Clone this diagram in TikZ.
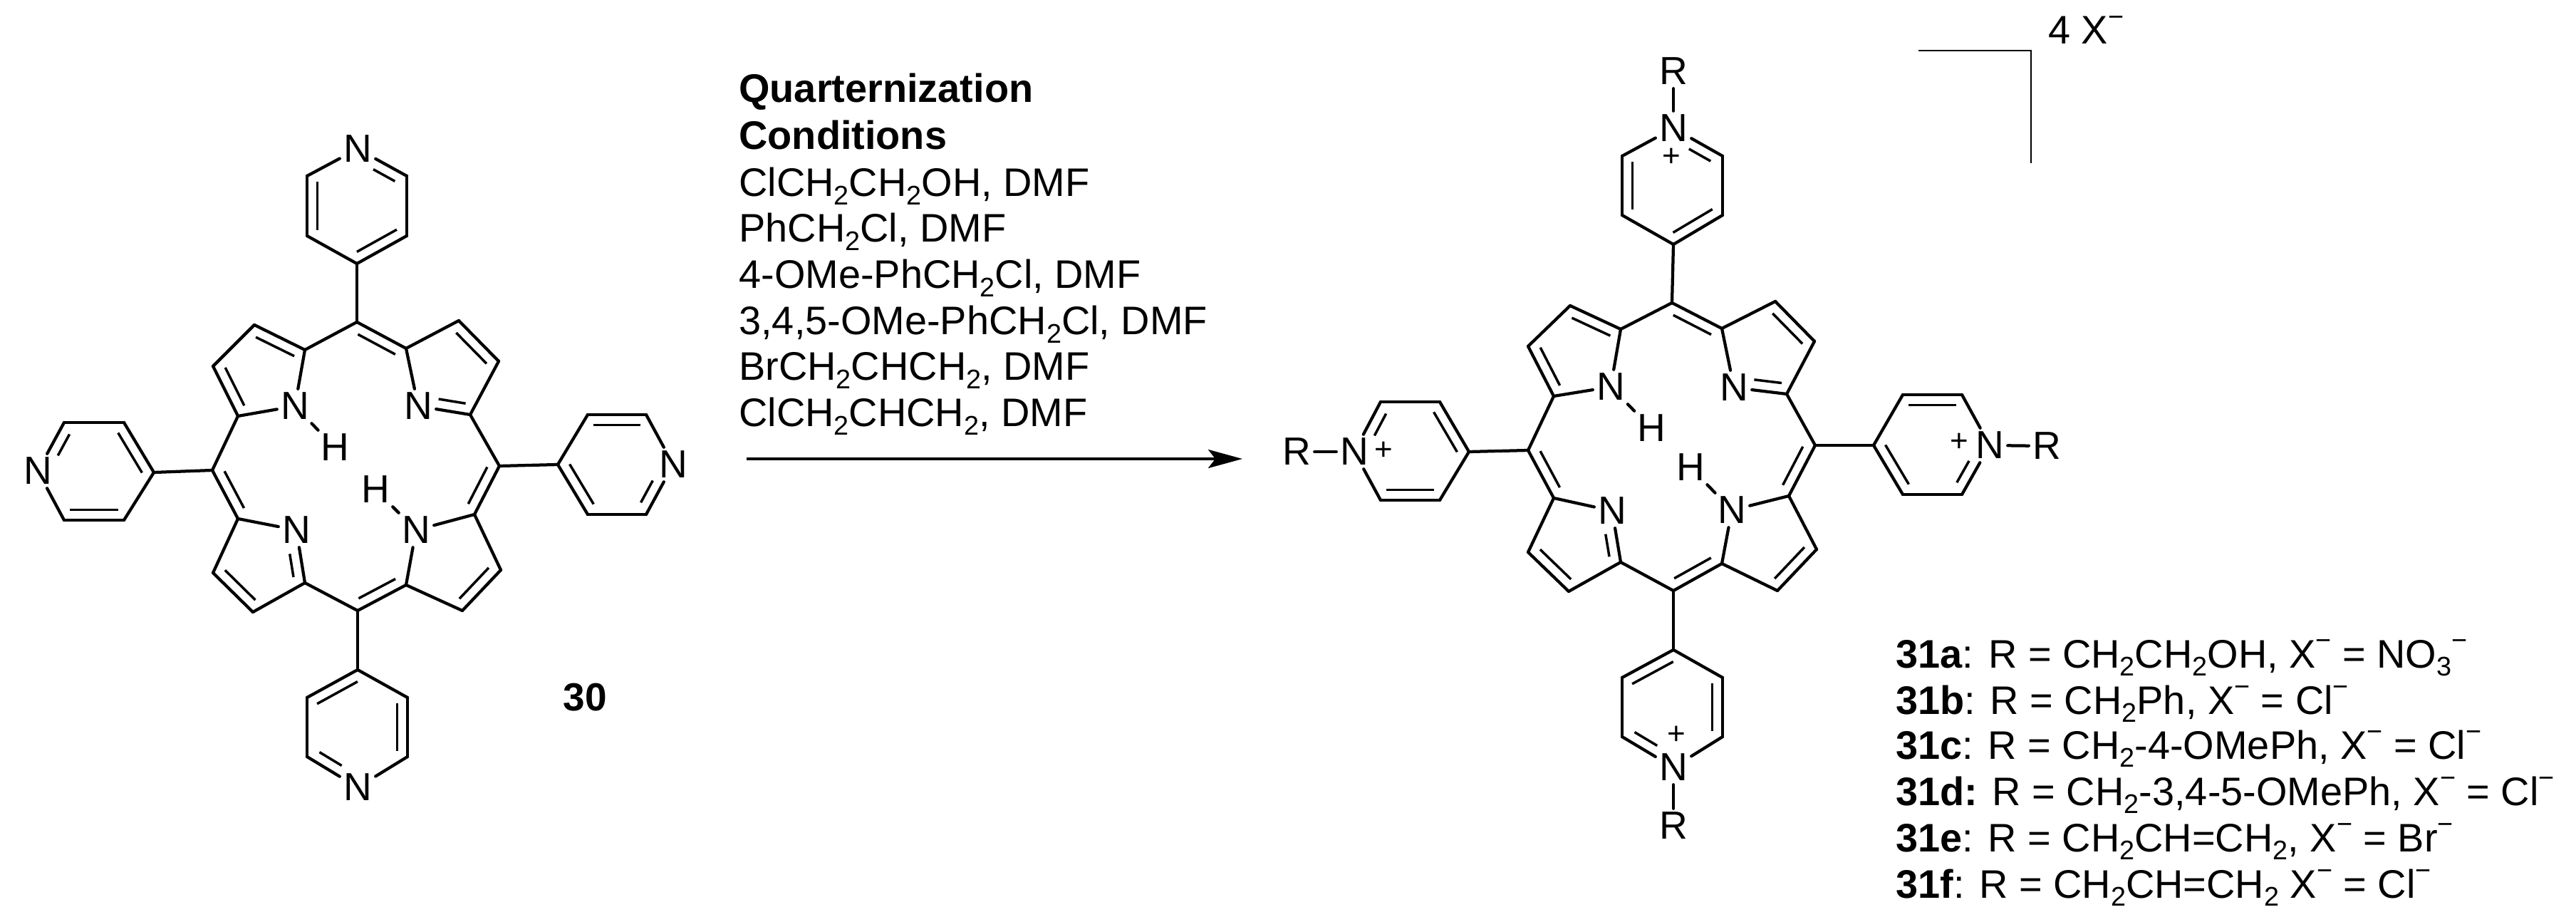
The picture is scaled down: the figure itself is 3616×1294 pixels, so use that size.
\documentclass[tikz,border=0pt]{standalone}
\usepackage{fontspec}
\setmainfont{Liberation Sans}
\usetikzlibrary{calc,arrows.meta}
\newcommand{\dn}[1]{\raisebox{-0.2em}{\fontsize{21.5}{21.5}\selectfont #1}}
\newcommand{\up}[1]{\raisebox{0.45em}{\fontsize{21.5}{21.5}\selectfont #1}}
% inner line of a double bond, on the left of a -> b
\newcommand{\innerb}[4]{\draw[innerbond] ($(#1)!#3!(#2)!2.9mm!90:(#2)$) -- ($(#2)!#4!(#1)!2.9mm!-90:(#1)$);}
\newcommand{\dbl}[4]{\draw[bond] (#1) -- (#2); \innerb{#1}{#2}{#3}{#4}}
% pyridine ring: i-a double, b-N double, c-d double
\newcommand{\pyr}[1]{%
  \dbl{#1i}{#1a}{0.1}{0.1}
  \draw[bond] (#1a) -- (#1b);
  \dbl{#1b}{#1N}{0.14}{0.42}
  \draw[bond] (#1N) -- (#1c);
  \dbl{#1c}{#1d}{0.1}{0.1}
  \draw[bond] (#1d) -- (#1i);
}
% porphyrin core bonds
\newcommand{\core}[1]{%
  \draw[bond] (#1mT) -- (#1UL1);
  \dbl{#1UL1}{#1UL2}{0.12}{0.12}
  \draw[bond] (#1UL2) -- (#1UL3);
  \dbl{#1UL3}{#1UL4}{0.12}{0.12}
  \draw[bond] (#1UL4) -- (#1NUL);
  \draw[bond] (#1NUL) -- (#1UL1);
  \draw[bond] (#1UL4) -- (#1mL);
  \dbl{#1mL}{#1LL1}{0.12}{0.12}
  \draw[bond] (#1LL1) -- (#1NLL);
  \draw[bond] (#1LL1) -- (#1LL2);
  \dbl{#1LL2}{#1LL3}{0.12}{0.12}
  \draw[bond] (#1LL3) -- (#1LL4);
  \dbl{#1LL4}{#1NLL}{0.14}{0.42}
  \draw[bond] (#1LL4) -- (#1mB);
  \dbl{#1mB}{#1LR4}{0.12}{0.12}
  \draw[bond] (#1LR4) -- (#1LR3);
  \dbl{#1LR3}{#1LR2}{0.12}{0.12}
  \draw[bond] (#1LR2) -- (#1LR1);
  \draw[bond] (#1LR1) -- (#1NLR);
  \draw[bond] (#1NLR) -- (#1LR4);
  \dbl{#1LR1}{#1mR}{0.12}{0.12}
  \draw[bond] (#1mR) -- (#1UR4);
  \draw[bond] (#1UR4) -- (#1UR3);
  \dbl{#1UR3}{#1UR2}{0.12}{0.12}
  \draw[bond] (#1UR2) -- (#1UR1);
  \draw[bond] (#1UR1) -- (#1NUR);
  \dbl{#1NUR}{#1UR4}{0.36}{0.12}
  \dbl{#1UR1}{#1mT}{0.12}{0.12}
  \draw[bond] (#1NUL) -- (#1HU);
  \draw[bond] (#1NLR) -- (#1HD);
  \draw[bond] (#1mT) -- (#1Ti);
  \draw[bond] (#1mL) -- (#1Li);
  \draw[bond] (#1mB) -- (#1Bi);
  \draw[bond] (#1mR) -- (#1Ri);
  \pyr{#1T}\pyr{#1L}\pyr{#1B}\pyr{#1R}
}
\tikzset{
  bond/.style={line width=0.85mm,line cap=round,line join=round},
  innerbond/.style={line width=0.7mm},
  thinline/.style={line width=0.5mm},
  atom/.style={font=\fontsize{31.3}{37}\selectfont,inner sep=1mm},
  plusn/.style={font=\fontsize{25}{30}\selectfont,inner sep=0},
  txt/.style={font=\fontsize{31.8}{37}\selectfont,anchor=base west,inner sep=0},
  rxnarrow/.style={line width=0.8mm,-{Stealth[length=9.6mm,width=5.2mm,inset=2mm]}},
}
\begin{document}
\begin{tikzpicture}[x=0.2mm,y=-0.2mm]
\useasboundingbox (0,0) rectangle (3616,1294);
\fill[white] (0,0) rectangle (3616,1294);

%% ---------- compound 30 ----------
\coordinate (AmT) at (501,452);
\coordinate (AmL) at (298,660);
\coordinate (AmB) at (502,857);
\coordinate (AmR) at (701,654);
\coordinate (AUL1) at (428,491);
\coordinate (AUL2) at (357,456);
\coordinate (AUL3) at (299,514);
\coordinate (AUL4) at (334,584);
\coordinate (AUR1) at (570,489);
\coordinate (AUR2) at (644,450);
\coordinate (AUR3) at (700,507);
\coordinate (AUR4) at (660,582);
\coordinate (ALL1) at (334,728);
\coordinate (ALL2) at (299,804);
\coordinate (ALL3) at (355,859);
\coordinate (ALL4) at (428,818);
\coordinate (ALR1) at (666,722);
\coordinate (ALR2) at (703,800);
\coordinate (ALR3) at (649,857);
\coordinate (ALR4) at (570,821);
\node[atom] (ANUL) at (414,570) {N};
\node[atom] (ANUR) at (587,570) {N};
\node[atom] (ANLL) at (416,744) {N};
\node[atom] (ANLR) at (584,744) {N};
\node[atom] (AHU) at (470,628) {H};
\node[atom] (AHD) at (527,687) {H};
% top ring
\coordinate (ATi) at (501,370);
\coordinate (ATa) at (571,331);
\coordinate (ATb) at (571,247);
\node[atom] (ATN) at (502,209) {N};
\coordinate (ATc) at (431,247);
\coordinate (ATd) at (431,331);
% left ring
\coordinate (ALi) at (216,663);
\coordinate (ALa) at (174,593);
\coordinate (ALb) at (90,593);
\node[atom] (ALN) at (53,661) {N};
\coordinate (ALc) at (90,730);
\coordinate (ALd) at (174,730);
% right ring
\coordinate (ARi) at (783,652);
\coordinate (ARa) at (825,722);
\coordinate (ARb) at (907,722);
\node[atom] (ARN) at (945,652) {N};
\coordinate (ARc) at (907,582);
\coordinate (ARd) at (825,582);
% bottom ring
\coordinate (ABi) at (502,940);
\coordinate (ABa) at (431,979);
\coordinate (ABb) at (431,1062);
\node[atom] (ABN) at (502,1105) {N};
\coordinate (ABc) at (572,1062);
\coordinate (ABd) at (572,979);
\core{A}
\node[atom,font=\fontsize{31.3}{37}\selectfont\bfseries] (lab30) at (821,979) {30};

%% ---------- compound 31 ----------
\coordinate (BmT) at (2347,425);
\coordinate (BmL) at (2145,632);
\coordinate (BmB) at (2349,829);
\coordinate (BmR) at (2548,625);
\coordinate (BUL1) at (2275,462);
\coordinate (BUL2) at (2204,429);
\coordinate (BUL3) at (2145,486);
\coordinate (BUL4) at (2181,556);
\coordinate (BUR1) at (2417,461);
\coordinate (BUR2) at (2492,423);
\coordinate (BUR3) at (2547,479);
\coordinate (BUR4) at (2508,553);
\coordinate (BLL1) at (2181,699);
\coordinate (BLL2) at (2145,775);
\coordinate (BLL3) at (2202,830);
\coordinate (BLL4) at (2275,789);
\coordinate (BLR1) at (2511,696);
\coordinate (BLR2) at (2550,771);
\coordinate (BLR3) at (2495,829);
\coordinate (BLR4) at (2417,791);
\node[atom] (BNUL) at (2261,543) {N};
\node[atom] (BNUR) at (2434,544) {N};
\node[atom] (BNLL) at (2263,717) {N};
\node[atom] (BNLR) at (2431,716) {N};
\node[atom] (BHU) at (2318,601) {H};
\node[atom] (BHD) at (2373,656) {H};
% top ring
\coordinate (BTi) at (2349,343);
\coordinate (BTa) at (2418,302);
\coordinate (BTb) at (2418,219);
\node[atom] (BTN) at (2349,180) {N};
\coordinate (BTc) at (2277,219);
\coordinate (BTd) at (2277,302);
\node[atom] (BTR) at (2349,100) {R};
\node[plusn] (BTp) at (2346,221) {+};
% left ring
\coordinate (BLi) at (2062,634);
\coordinate (BLa) at (2021,564);
\coordinate (BLb) at (1938,564);
\node[atom] (BLN) at (1901,634) {N};
\coordinate (BLc) at (1938,702);
\coordinate (BLd) at (2021,702);
\node[atom] (BLR) at (1820,634) {R};
\node[plusn] (BLp) at (1942,633) {+};
% right ring
\coordinate (BRi) at (2630,625);
\coordinate (BRa) at (2671,694);
\coordinate (BRb) at (2754,694);
\node[atom] (BRN) at (2793,625) {N};
\coordinate (BRc) at (2754,554);
\coordinate (BRd) at (2671,554);
\node[atom] (BRR) at (2873,626) {R};
\node[plusn] (BRp) at (2750,621) {+};
% bottom ring
\coordinate (BBi) at (2349,912);
\coordinate (BBa) at (2277,951);
\coordinate (BBb) at (2277,1034);
\node[atom] (BBN) at (2349,1077) {N};
\coordinate (BBc) at (2418,1034);
\coordinate (BBd) at (2418,951);
\node[atom] (BBR) at (2349,1159) {R};
\node[plusn] (BBp) at (2353,1032) {+};
\core{B}
\draw[bond] (BTR) -- (BTN);
\draw[bond] (BLR) -- (BLN);
\draw[bond] (BRN) -- (BRR);
\draw[bond] (BBN) -- (BBR);

% bracket and counter-ion
\coordinate (brA) at (2693,71);
\coordinate (brB) at (2851,71);
\coordinate (brC) at (2851,229);
\draw[thinline] (brA) -- (brB) -- (brC);
\node[txt] (cion) at (2875,62) {4 X\up{−}};

%% ---------- reaction conditions ----------
\node[txt,font=\fontsize{31.8}{37}\selectfont\bfseries] (q1) at (1037,144) {Quarternization};
\node[txt,font=\fontsize{31.8}{37}\selectfont\bfseries] (q2) at (1037,210) {Conditions};
\node[txt] (q3) at (1037,276) {ClCH\dn{2}CH\dn{2}OH, DMF};
\node[txt] (q4) at (1037,340) {PhCH\dn{2}Cl, DMF};
\node[txt] (q5) at (1037,405) {4-OMe-PhCH\dn{2}Cl, DMF};
\node[txt] (q6) at (1037,470) {3,4,5-OMe-PhCH\dn{2}Cl, DMF};
\node[txt] (q7) at (1037,534) {BrCH\dn{2}CHCH\dn{2}, DMF};
\node[txt] (q8) at (1037,599) {ClCH\dn{2}CHCH\dn{2}, DMF};
\coordinate (arrS) at (1048,644);
\coordinate (arrE) at (1744,644);
\draw[rxnarrow] (arrS) -- (arrE);

%% ---------- legend ----------
\node[txt] (l1) at (2661,937) {\textbf{31a}: R = CH\dn{2}CH\dn{2}OH, X\up{−} = NO\dn{3}\up{−}};
\node[txt] (l2) at (2661,1002) {\textbf{31b}: R = CH\dn{2}Ph, X\up{−} = Cl\up{−}};
\node[txt] (l3) at (2661,1065) {\textbf{31c}: R = CH\dn{2}-4-OMePh, X\up{−} = Cl\up{−}};
\node[txt] (l4) at (2661,1130) {\textbf{31d:} R = CH\dn{2}-3,4-5-OMePh, X\up{−} = Cl\up{−}};
\node[txt] (l5) at (2661,1195) {\textbf{31e}: R = CH\dn{2}CH=CH\dn{2}, X\up{−} = Br\up{−}};
\node[txt] (l6) at (2661,1260) {\textbf{31f}: R = CH\dn{2}CH=CH\dn{2} X\up{−} = Cl\up{−}};
\end{tikzpicture}
\end{document}
